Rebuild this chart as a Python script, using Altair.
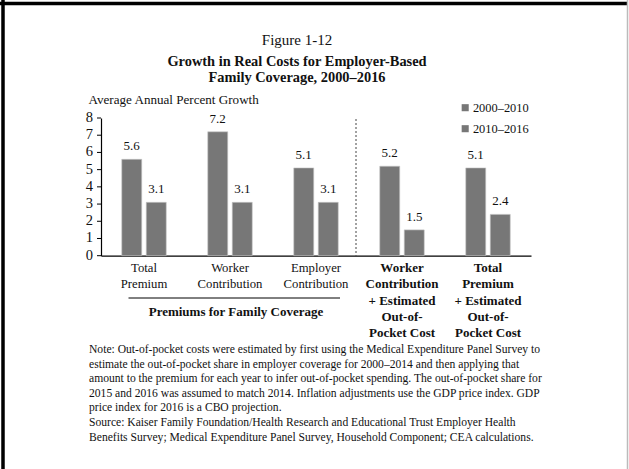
import altair as alt
import pandas as pd

# ---------------- data ----------------
categories = [
    "Total|Premium",
    "Worker|Contribution",
    "Employer|Contribution",
    "Worker|Contribution|+ Estimated|Out-of-|Pocket Cost",
    "Total|Premium|+ Estimated|Out-of-|Pocket Cost",
]
series = ["2000–2010", "2010–2016"]
growth_2000_2010 = [5.6, 7.2, 5.1, 5.2, 5.1]
growth_2010_2016 = [3.1, 3.1, 3.1, 1.5, 2.4]
y_ticks = [0, 1, 2, 3, 4, 5, 6, 7, 8]

title_top = "Figure 1-12"
title_lines = ["Growth in Real Costs for Employer-Based", "Family Coverage, 2000–2016"]
y_title = "Average Annual Percent Growth"
group_label = "Premiums for Family Coverage"
note_lines = [
    "Note: Out-of-pocket costs were estimated by first using the Medical Expenditure Panel Survey to",
    "estimate the out-of-pocket share in employer coverage for 2000–2014 and then applying that",
    "amount to the premium for each year to infer out-of-pocket spending. The out-of-pocket share for",
    "2015 and 2016 was assumed to match 2014. Inflation adjustments use the GDP price index. GDP",
    "price index for 2016 is a CBO projection.",
    "Source: Kaiser Family Foundation/Health Research and Educational Trust Employer Health",
    "Benefits Survey; Medical Expenditure Panel Survey, Household Component; CEA calculations.",
]

rows = []
for c, a, b in zip(categories, growth_2000_2010, growth_2010_2016):
    rows.append({"cat": c, "period": series[0], "value": a})
    rows.append({"cat": c, "period": series[1], "value": b})
df = pd.DataFrame(rows)
ticks_df = pd.DataFrame({"t": y_ticks})
one = pd.DataFrame({"k": [0]})

# ---------------- layout ----------------
W, H = 430, 137.7
PAD_L, PAD_T = 101, 118
FONT = "Liberation Serif"
BAR = "#777777"
TXT = "#111111"
BOLD_TEST = "indexof(datum.value, 'Estimated') >= 0"

x_scale = alt.Scale(paddingInner=0, paddingOuter=0)
xoff_scale = alt.Scale(paddingInner=0.184, paddingOuter=0.847)
y_scale = alt.Scale(domain=[0, 8], nice=False)

x_axis = alt.Axis(
    title=None,
    labelExpr="split(datum.label, '|')",
    labelAngle=0,
    ticks=False,
    domainColor="black",
    domainWidth=1.2,
    labelFont=FONT,
    labelColor=TXT,
    labelPadding=6,
    labelLineHeight=16.3,
    labelLimit=0,
    labelFontSize={"condition": {"test": BOLD_TEST, "value": 13}, "value": 12.7},
    labelFontWeight={"condition": {"test": BOLD_TEST, "value": "bold"}, "value": "normal"},
)
y_axis = alt.Axis(
    labels=False,
    ticks=False,
    title=y_title,
    titleAngle=0,
    titleAlign="left",
    titleBaseline="middle",
    titleX=-13,
    titleY=-19,
    titleFont=FONT,
    titleFontSize=13.1,
    titleFontWeight="normal",
    titleColor=TXT,
    grid=False,
    domainColor="black",
    domainWidth=1.2,
)
blank_axis = alt.Axis(labels=False, ticks=False, domain=False, grid=False, title=None)

bars = alt.Chart(df).mark_bar(stroke="#c8c8c8", strokeWidth=0.6).encode(
    x=alt.X("cat:N", sort=categories, scale=x_scale, axis=x_axis),
    xOffset=alt.XOffset("period:N", sort=series, scale=xoff_scale),
    y=alt.Y("value:Q", scale=y_scale, axis=y_axis),
    color=alt.Color(
        "period:N",
        sort=series,
        scale=alt.Scale(domain=series, range=[BAR, BAR]),
        legend=alt.Legend(
            title=None,
            orient="none",
            legendX=358,
            legendY=-16.5,
            symbolType="square",
            symbolSize=50,
            symbolStrokeWidth=0,
            symbolOpacity=1,
            labelFont=FONT,
            labelFontSize=12.4,
            labelColor=TXT,
            labelOffset=1.5,
            rowPadding=8,
            padding=0,
        ),
    ),
)

values = alt.Chart(df).mark_text(
    font=FONT, fontSize=13, color=TXT, dy=-13, baseline="middle"
).encode(
    x=alt.X("cat:N", sort=categories, axis=blank_axis),
    xOffset=alt.XOffset("period:N", sort=series),
    y=alt.Y("value:Q", axis=blank_axis),
    text=alt.Text("value:Q", format=".1f"),
)

# y-axis ticks and tick labels, placed through the shared y scale
y_tick_marks = alt.Chart(ticks_df).mark_rule(color="black", strokeWidth=1).encode(
    x=alt.value(-4), x2=alt.value(0), y=alt.Y("t:Q", axis=blank_axis)
)
y_tick_labels = alt.Chart(ticks_df).mark_text(
    font=FONT, fontSize=14.5, color=TXT, align="right", baseline="middle"
).encode(x=alt.value(-8), y=alt.Y("t:Q", axis=blank_axis), text=alt.Text("t:Q", format="d"))

sep = alt.Chart(one).mark_rule(strokeDash=[2, 2], color="#444444", strokeWidth=1).encode(
    x=alt.value(255), y=alt.value(1), y2=alt.value(H)
)
underline = alt.Chart(one).mark_rule(color="black", strokeWidth=1).encode(
    x=alt.value(27.5), x2=alt.value(239), y=alt.value(180)
)
grp = alt.Chart(one).mark_text(
    font=FONT, fontSize=13, fontWeight="bold", color=TXT, baseline="middle"
).encode(x=alt.value(135), y=alt.value(194), text=alt.value(group_label))

t0 = alt.Chart(one).mark_text(
    font=FONT, fontSize=15, color=TXT, baseline="middle"
).encode(x=alt.value(196), y=alt.value(-78), text=alt.value(title_top))
t1 = alt.Chart(one).mark_text(
    font=FONT, fontSize=14.4, fontWeight="bold", color=TXT, baseline="middle"
).encode(x=alt.value(196), y=alt.value(-56), text=alt.value(title_lines[0]))
t2 = alt.Chart(one).mark_text(
    font=FONT, fontSize=14.4, fontWeight="bold", color=TXT, baseline="middle"
).encode(x=alt.value(196), y=alt.value(-40), text=alt.value(title_lines[1]))

note = alt.Chart(one).mark_text(
    font=FONT, fontSize=11.6, color=TXT, align="left", baseline="alphabetic", lineHeight=14.6
).encode(x=alt.value(-12), y=alt.value(235), text=alt.value(note_lines))

frame_left = alt.Chart(one).mark_rule(color="black", strokeWidth=3.5).encode(
    x=alt.value(-98), y=alt.value(-118), y2=alt.value(351)
)
frame_top = alt.Chart(one).mark_rule(color="black", strokeWidth=3.5).encode(
    x=alt.value(-101), x2=alt.value(527), y=alt.value(-114.5)
)
frame_right = alt.Chart(one).mark_rule(color="#bbbbbb", strokeWidth=1.5).encode(
    x=alt.value(526.5), y=alt.value(-118), y2=alt.value(351)
)

chart = (
    alt.layer(bars, values, y_tick_marks, y_tick_labels, sep, underline, grp,
              t0, t1, t2, note, frame_left, frame_top, frame_right)
    .resolve_axis(x="independent", y="independent")
    .properties(
        width=W,
        height=H,
        autosize=alt.AutoSizeParams(type="none"),
        padding={"left": PAD_L, "top": PAD_T, "right": 629 - PAD_L - W, "bottom": 469 - PAD_T - H},
        background="white",
    )
    .configure_view(stroke=None)
)

chart.save("out.html", embed_options={"renderer": "svg", "actions": False})
